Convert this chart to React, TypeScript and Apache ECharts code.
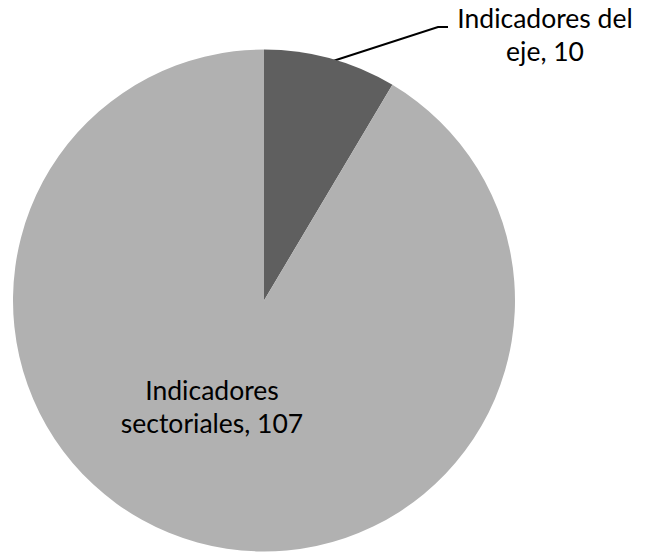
import React, { useEffect, useRef } from "react";
import * as echarts from "echarts";

const categories = ["Indicadores del\neje", "Indicadores\nsectoriales"];
const values = [10, 107];
const colors = ["#5f5f5f", "#b1b1b1"];

export default function App() {
  const ref = useRef<HTMLDivElement>(null);
  useEffect(() => {
    document.body.style.margin = "0";
    const chart = echarts.init(ref.current!, null, { renderer: "svg" });
    chart.setOption({
      animation: false,
      backgroundColor: "#ffffff",
      series: [
        {
          type: "pie",
          center: [264, 300.5],
          radius: 251,
          startAngle: 90,
          clockwise: true,
          avoidLabelOverlap: false,
          data: categories.map((c, i) => ({
            name: c,
            value: values[i],
            itemStyle: { color: colors[i] },
            label: { position: i === 0 ? "outside" : "inside" },
            labelLine: { show: i === 0 },
          })),
          label: {
            formatter: "{b}, {c}",
            fontFamily: "Lato",
            fontSize: 26.5,
            lineHeight: 33,
            color: "#000000",
            align: "center",
          },
          labelLine: {
            lineStyle: { color: "#000000", width: 2 },
            length: 20,
            length2: 10,
          },
          labelLayout: (p: any) =>
            p.dataIndex === 0
              ? {
                  x: 545,
                  y: 34,
                  align: "center",
                  verticalAlign: "middle",
                  labelLinePoints: [
                    [333, 61],
                    [438, 27],
                    [448, 27],
                  ],
                }
              : { x: 212, y: 406, align: "center", verticalAlign: "middle" },
        },
      ],
    });
    return () => chart.dispose();
  }, []);
  return <div ref={ref} style={{ width: 646, height: 553 }} />;
}
